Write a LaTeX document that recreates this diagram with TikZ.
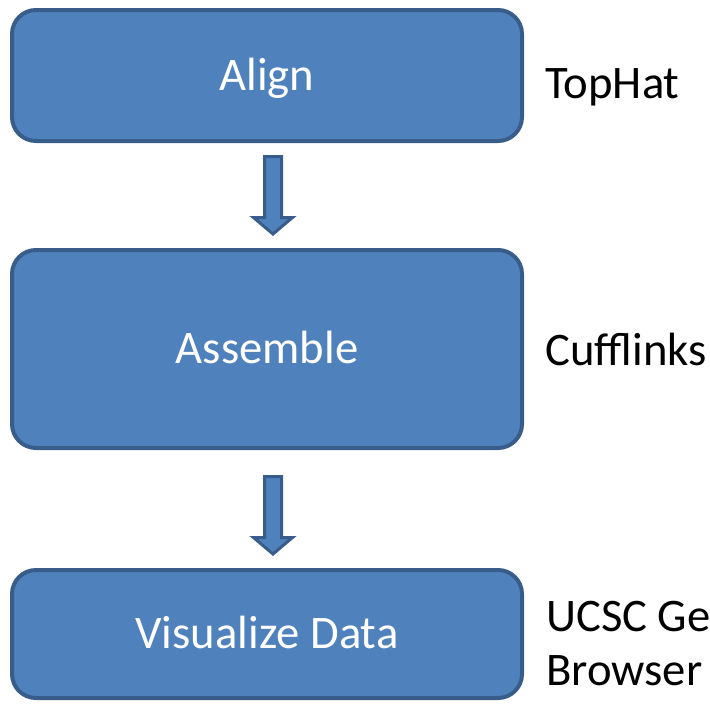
\documentclass[tikz,border=0pt]{standalone}
\usepackage{fontspec}
\setmainfont{Carlito}
\usetikzlibrary{calc}
\definecolor{boxfill}{HTML}{4F81BD}
\definecolor{boxline}{HTML}{385D8A}
\newcommand{\blockarrow}[2]{%
  \draw[blockarrow] ($(#1)+(-8.5,0)$) -- ($(#2)+(-8.5,-16.5)$) -- ($(#2)+(-19.5,-16.5)$)
    -- (#2) -- ($(#2)+(19.5,-16.5)$) -- ($(#2)+(8.5,-16.5)$) -- ($(#1)+(8.5,0)$) -- cycle;}
\begin{document}
\begin{tikzpicture}[x=0.75pt,y=-0.75pt,
  every node/.style={font=\fontsize{35}{40}\selectfont,inner sep=0pt},
  stepbox/.style={draw=boxline,fill=boxfill,line width=3pt,rounded corners=18pt,
    text=white,minimum width=382.5pt,text height=22.3pt,text depth=0pt},
  tool/.style={anchor=base west,align=left},
  blockarrow/.style={draw=boxline,fill=boxfill,line width=2.25pt,line join=miter}]
\useasboundingbox (0,0) rectangle (710,704);
\node[stepbox,minimum height=98.25pt]  (align)     at (267,75.5) {Align};
\node[stepbox,minimum height=148.5pt]  (assemble)  at (267,349)  {Assemble};
\node[stepbox,minimum height=96pt]     (visualize) at (267,634)  {Visualize Data};
\node[tool] (tophat)    at (545,98)  {TopHat};
\node[tool] (cufflinks) at (545,365) {Cufflinks};
\node[tool] (ucsc)      at (546,685) {UCSC Ge\\Browser};
\coordinate (a1) at ($(align.south)+(6,13.5)$);
\coordinate (t1) at ($(assemble.north)+(6,-14)$);
\coordinate (a2) at ($(assemble.south)+(6,26.5)$);
\coordinate (t2) at ($(visualize.north)+(6,-14)$);
\blockarrow{a1}{t1}
\blockarrow{a2}{t2}
\end{tikzpicture}
\end{document}
